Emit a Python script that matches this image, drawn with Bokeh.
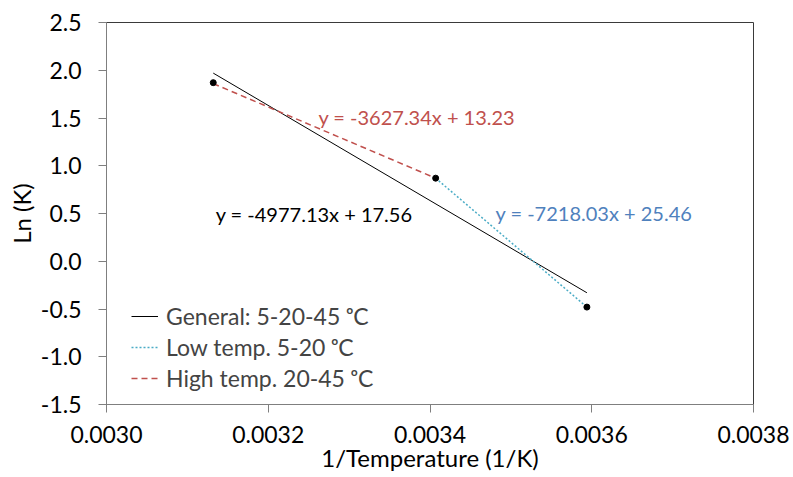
from bokeh.plotting import figure
from bokeh.models import Range1d, FixedTicker, Legend, LegendItem, Label
from bokeh.embed import file_html
from bokeh.resources import INLINE

# Data
inv_temp = [0.003132, 0.003407, 0.003594]      # 1/K for 45, 20, 5 degC
ln_k = [1.87, 0.87, -0.48]

general_x = [0.003132, 0.003594]
general_y = [1.97, -0.33]
low_x = [0.003407, 0.003594]
low_y = [0.87, -0.48]
high_x = [0.003132, 0.003407]
high_y = [1.86, 0.87]

x_ticks = [0.0030, 0.0032, 0.0034, 0.0036, 0.0038]
y_ticks = [-1.5, -1.0, -0.5, 0.0, 0.5, 1.0, 1.5, 2.0, 2.5]

eq_general = "y = -4977.13x + 17.56"
eq_low = "y = -7218.03x + 25.46"
eq_high = "y = -3627.34x + 13.23"

FONT = "Lato"

p = figure(width=793, height=477, output_backend="svg", toolbar_location=None,
           x_range=Range1d(0.0030, 0.0038), y_range=Range1d(-1.5, 2.5),
           min_border_left=106, min_border_right=40, min_border_top=22, min_border_bottom=73)

p.grid.visible = False
p.outline_line_color = "#3a3a3a"
p.outline_line_width = 1
p.background_fill_color = "white"
p.border_fill_color = "white"

p.xaxis.ticker = FixedTicker(ticks=x_ticks)
p.yaxis.ticker = FixedTicker(ticks=y_ticks)
p.xaxis.major_label_overrides = {t: f"{t:.4f}" for t in x_ticks}
p.yaxis.major_label_overrides = {t: f"{t:.1f}" for t in y_ticks}
for ax in (p.xaxis, p.yaxis):
    ax.minor_tick_line_color = None
    ax.major_tick_in = 0
    ax.major_tick_out = 8
    ax.axis_line_color = "#7f7f7f"
    ax.major_tick_line_color = "#7f7f7f"
    ax.major_label_text_font = FONT
    ax.major_label_text_font_size = "23px"
    ax.major_label_text_color = "black"
    ax.axis_label_text_font = FONT
    ax.axis_label_text_font_size = "24px"
    ax.axis_label_text_font_style = "normal"
    ax.axis_label_text_color = "black"
p.xaxis.axis_label = "1/Temperature (1/K)"
p.yaxis.axis_label = "Ln (K)"
p.yaxis.major_label_standoff = 17
p.xaxis.major_label_standoff = 13
p.xaxis.axis_label_standoff = -3
p.yaxis.axis_label_standoff = 2

r_gen = p.line(general_x, general_y, line_color="black", line_width=1)
r_low = p.line(low_x, low_y, line_color="#4BACC6", line_width=1.5, line_dash="2 2")
r_high = p.line(high_x, high_y, line_color="#C0504D", line_width=1.5, line_dash="6 4")
p.scatter(inv_temp, ln_k, size=6, color="black")

legend = Legend(items=[
    LegendItem(label="General: 5-20-45 \u1d52C", renderers=[r_gen]),
    LegendItem(label="Low temp. 5-20 \u1d52C", renderers=[r_low]),
    LegendItem(label="High temp. 20-45 \u1d52C", renderers=[r_high]),
], location=(25, 12))
legend.border_line_color = None
legend.background_fill_alpha = 0
legend.label_text_font = FONT
legend.label_text_font_size = "23px"
legend.label_height = 26
legend.glyph_height = 26
legend.glyph_width = 27
legend.spacing = 3
legend.padding = 0
legend.label_standoff = 8
legend.margin = 0
p.add_layout(legend)

p.add_layout(Label(x=0.003262, y=1.515, text=eq_high, text_color="#C0504D",
                   text_font=FONT, text_font_size="20px", text_baseline="middle"))
p.add_layout(Label(x=0.003135, y=0.49, text=eq_general, text_color="black",
                   text_font=FONT, text_font_size="20px", text_baseline="middle"))
p.add_layout(Label(x=0.003481, y=0.51, text=eq_low, text_color="#4F81BD",
                   text_font=FONT, text_font_size="20px", text_baseline="middle"))

open("out.html", "w").write(file_html(p, INLINE))
